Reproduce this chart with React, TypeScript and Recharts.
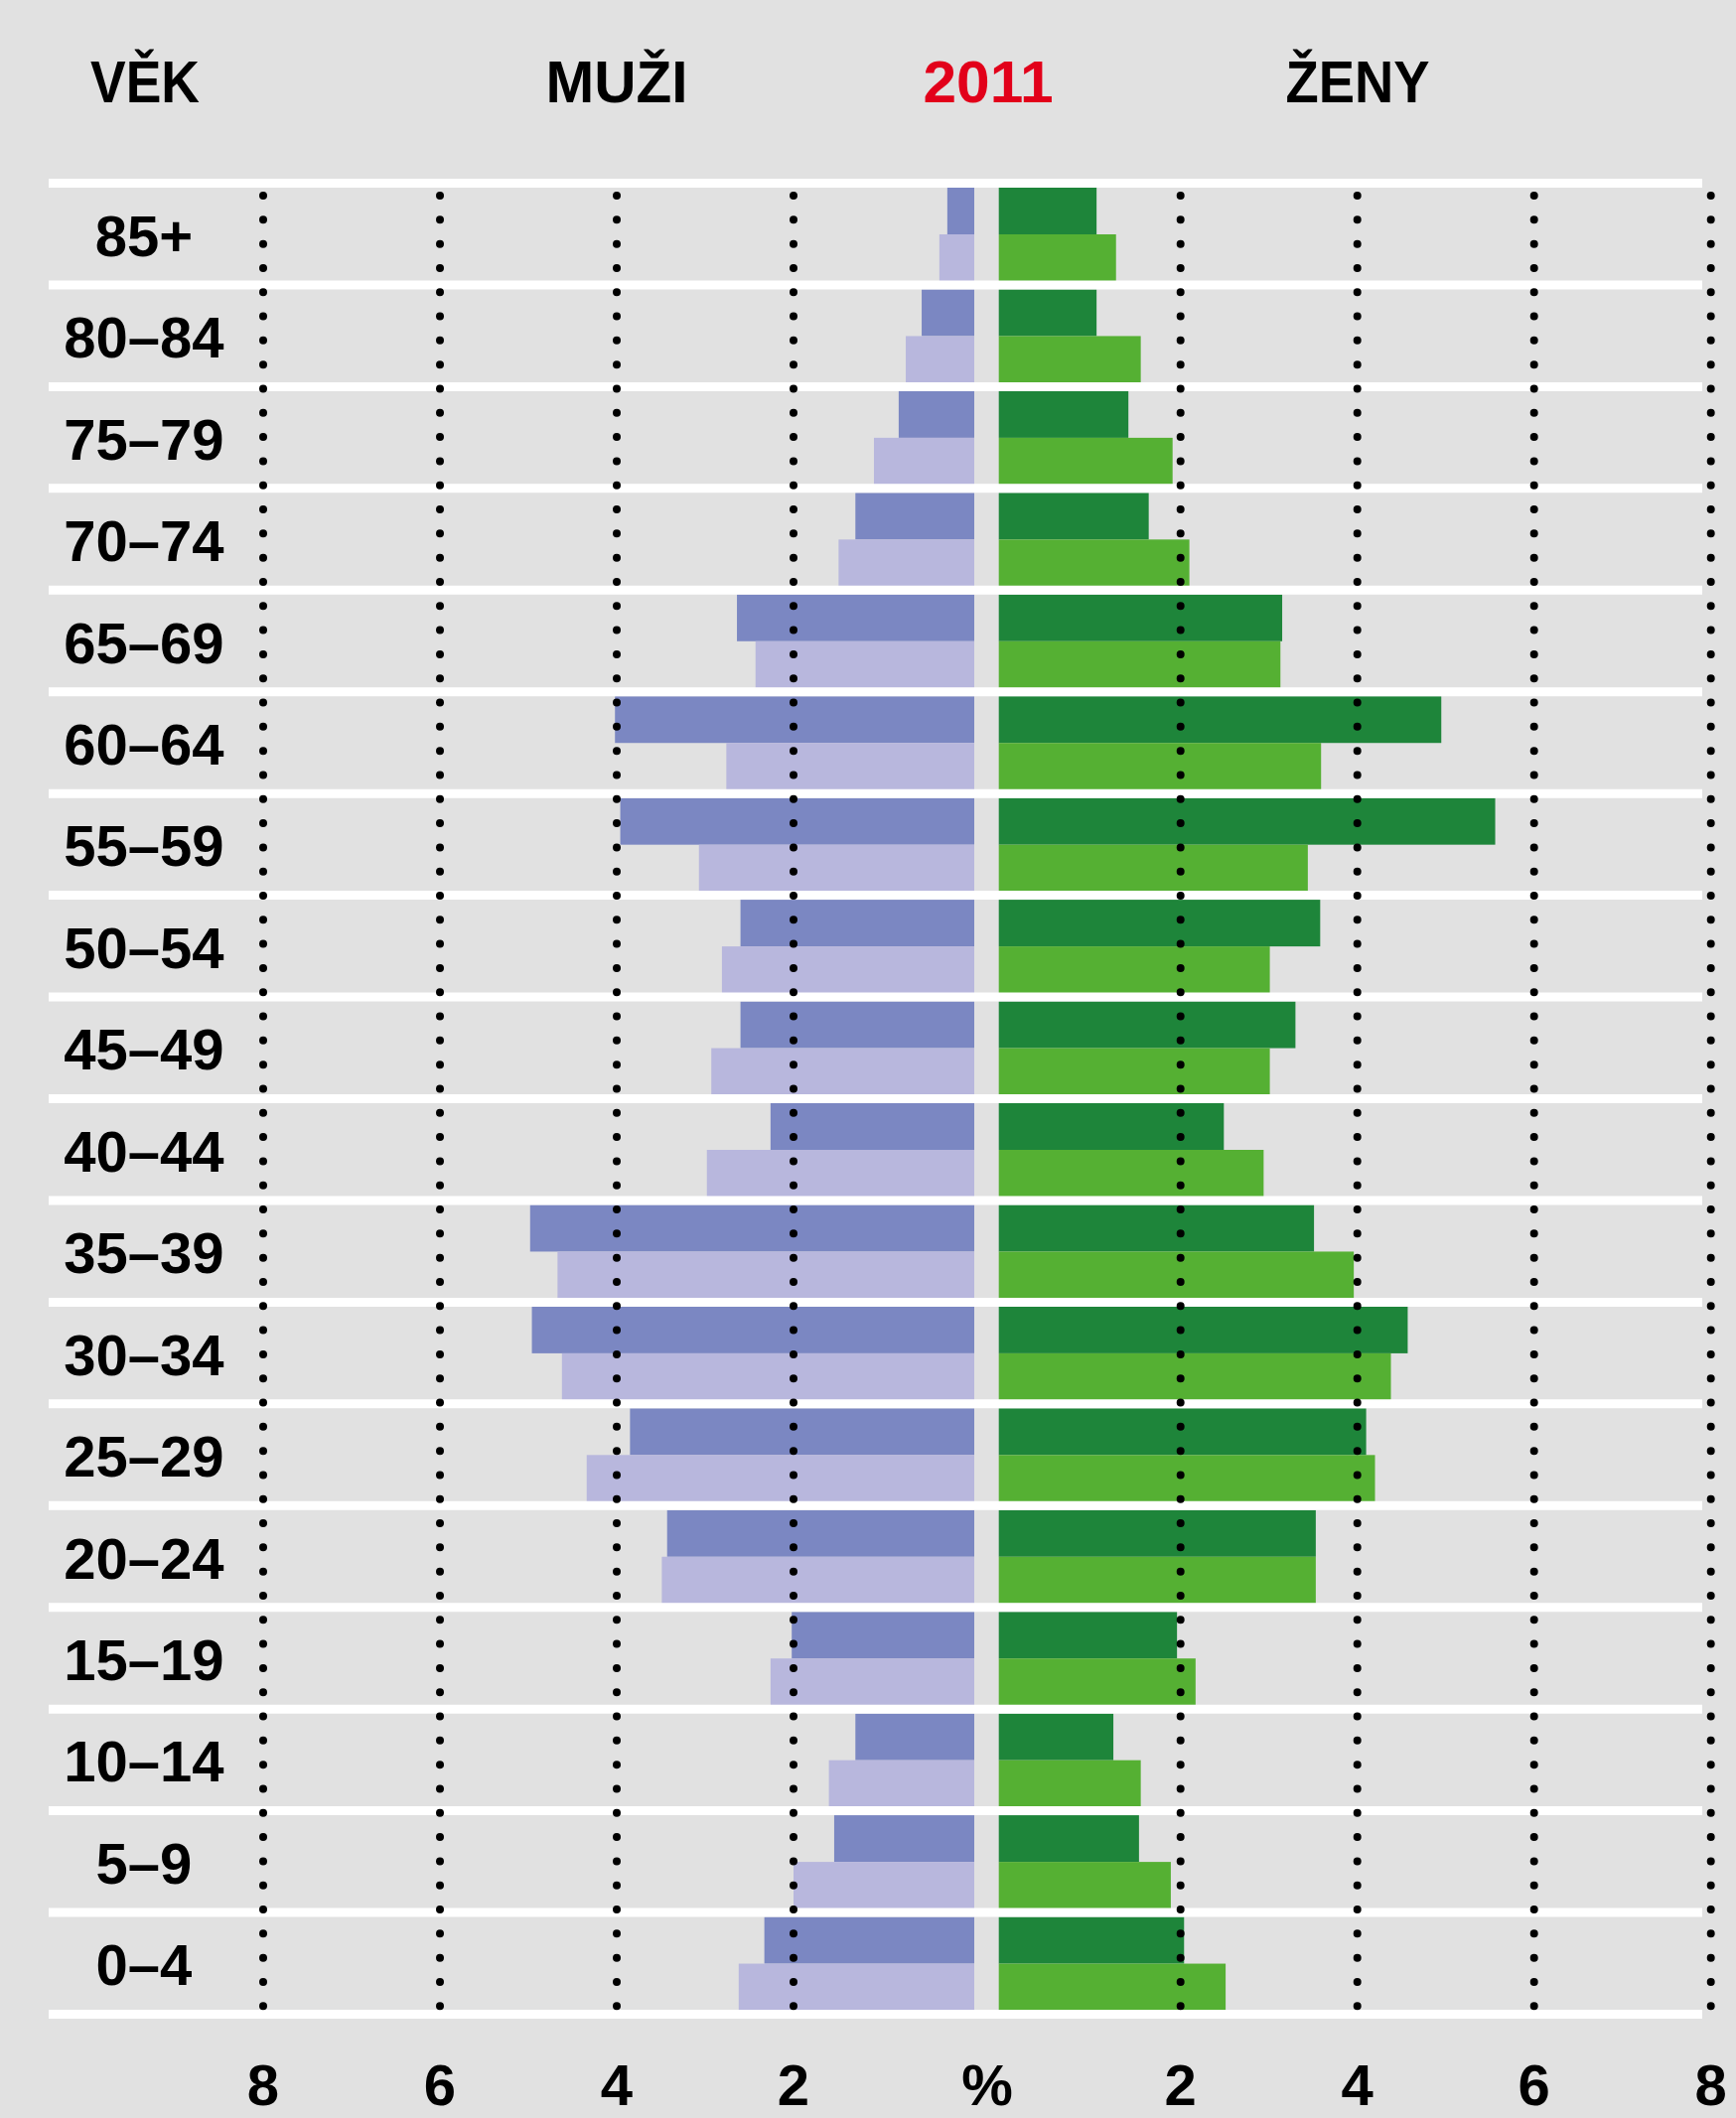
import React from 'react';
import { BarChart, Bar, XAxis, YAxis, ReferenceLine } from 'recharts';

// ---- data ----
const AGES = ['85+', '80–84', '75–79', '70–74', '65–69', '60–64', '55–59', '50–54', '45–49', '40–44', '35–39', '30–34', '25–29', '20–24', '15–19', '10–14', '5–9', '0–4'];
const MEN_DARK = [0.26, 0.55, 0.81, 1.30, 2.64, 4.02, 3.96, 2.60, 2.60, 2.26, 4.98, 4.96, 3.85, 3.43, 2.02, 1.30, 1.54, 2.33];
const MEN_LIGHT = [0.35, 0.73, 1.09, 1.49, 2.43, 2.76, 3.07, 2.81, 2.93, 2.98, 4.67, 4.62, 4.34, 3.49, 2.26, 1.60, 2.00, 2.62];
const WOMEN_DARK = [1.05, 1.05, 1.41, 1.64, 3.15, 4.95, 5.56, 3.58, 3.30, 2.49, 3.51, 4.57, 4.10, 3.53, 1.96, 1.24, 1.53, 2.04];
const WOMEN_LIGHT = [1.27, 1.55, 1.91, 2.10, 3.13, 3.59, 3.44, 3.01, 3.01, 2.94, 3.96, 4.38, 4.20, 3.53, 2.17, 1.55, 1.89, 2.51];
const GRID_TICKS = [2, 4, 6, 8];
const TITLE_AGE = 'VĚK';
const TITLE_MEN = 'MUŽI';
const TITLE_YEAR = '2011';
const TITLE_WOMEN = 'ŽENY';
const UNIT = '%';

const data = AGES.map((age, i) => ({
  age,
  menDark: MEN_DARK[i],
  menLight: MEN_LIGHT[i],
  womenDark: WOMEN_DARK[i],
  womenLight: WOMEN_LIGHT[i],
}));

// ---- layout ----
const W = 1748;
const H = 2133;
const PLOT_L = 49;
const PLOT_R = 1714;
const PLOT_T = 184.5;
const PLOT_B = 2028.5;
const PX = 89; // pixels per percent
const MEN_ZERO = 977;
const WOMEN_ZERO = 1010.7;
const menDomain = [(MEN_ZERO - PLOT_R) / PX, (MEN_ZERO - PLOT_L) / PX];
const womenDomain = [(PLOT_L - WOMEN_ZERO) / PX, (PLOT_R - WOMEN_ZERO) / PX];

const FONT = '"Liberation Sans", Arial, sans-serif';
const BG = '#e1e1e1';
const C_MEN_DARK = '#7b87c2';
const C_MEN_LIGHT = '#b8b7dd';
const C_WOMEN_DARK = '#1e853a';
const C_WOMEN_LIGHT = '#55b033';
const TICK_BASE = 2120;

const MenShape = (p: any) => {
  const l = Math.min(p.x, p.x + p.width);
  const r = Math.max(p.x, p.x + p.width);
  return <rect x={l} y={p.y} width={r - l + 4} height={p.height} fill={p.fill} />;
};
const WomenShape = (p: any) => {
  const l = Math.min(p.x, p.x + p.width);
  const r = Math.max(p.x, p.x + p.width);
  return <rect x={l - 5} y={p.y} width={r - l + 5} height={p.height} fill={p.fill} />;
};

const DotLine = (p: any) => {
  const top = Math.min(p.y1, p.y2);
  const bot = Math.max(p.y1, p.y2);
  return (
    <line
      x1={p.x1}
      x2={p.x2}
      y1={top}
      y2={bot}
      stroke="#000"
      strokeWidth={8}
      strokeLinecap="round"
      strokeDasharray="0 24.31"
      strokeDashoffset={11.8}
    />
  );
};

const AgeTick = (p: any) => (
  <text x={145} y={p.y} dy={22} textAnchor="middle" fontFamily={FONT} fontWeight={700} fontSize={58} fill="#000">
    {p.payload.value}
  </text>
);

const BottomTick = (p: any) => (
  <text x={p.x} y={TICK_BASE} textAnchor="middle" fontFamily={FONT} fontWeight={700} fontSize={58} fill="#000">
    {p.payload.value}
  </text>
);

export default function App() {
  return (
    <div style={{ position: 'absolute', left: 0, top: 0, width: W, height: H, background: BG, overflow: 'hidden' }}>
      <BarChart
        width={W}
        height={H}
        data={data}
        layout="vertical"
        margin={{ top: PLOT_T, bottom: H - PLOT_B, left: PLOT_L, right: W - PLOT_R }}
        barCategoryGap={4.5}
        barGap={0}
      >
        <XAxis
          xAxisId="m"
          type="number"
          reversed
          mirror
          domain={menDomain}
          allowDataOverflow
          ticks={GRID_TICKS}
          interval={0}
          height={60}
          axisLine={false}
          tickLine={false}
          tick={<BottomTick />}
        />
        <XAxis
          xAxisId="w"
          type="number"
          mirror
          domain={womenDomain}
          allowDataOverflow
          ticks={GRID_TICKS}
          interval={0}
          height={60}
          axisLine={false}
          tickLine={false}
          tick={<BottomTick />}
        />
        <YAxis
          yAxisId="m"
          type="category"
          dataKey="age"
          mirror
          width={200}
          axisLine={false}
          tickLine={false}
          interval={0}
          tick={<AgeTick />}
        />
        <YAxis yAxisId="w" type="category" dataKey="age" hide />

        {AGES.map((a) => (
          <ReferenceLine key={'b' + a} y={a} yAxisId="m" xAxisId="m" position="start" stroke="#fff" strokeWidth={9} ifOverflow="visible" />
        ))}
        <ReferenceLine y={AGES[AGES.length - 1]} yAxisId="m" xAxisId="m" position="end" stroke="#fff" strokeWidth={9} ifOverflow="visible" />

        <Bar dataKey="menDark" xAxisId="m" yAxisId="m" fill={C_MEN_DARK} shape={MenShape} isAnimationActive={false} />
        <Bar dataKey="menLight" xAxisId="m" yAxisId="m" fill={C_MEN_LIGHT} shape={MenShape} isAnimationActive={false} />
        <Bar dataKey="womenDark" xAxisId="w" yAxisId="w" fill={C_WOMEN_DARK} shape={WomenShape} isAnimationActive={false} />
        <Bar dataKey="womenLight" xAxisId="w" yAxisId="w" fill={C_WOMEN_LIGHT} shape={WomenShape} isAnimationActive={false} />

        {GRID_TICKS.map((t) => (
          <ReferenceLine key={'gm' + t} x={t} xAxisId="m" yAxisId="m" ifOverflow="visible" shape={DotLine} />
        ))}
        {GRID_TICKS.map((t) => (
          <ReferenceLine key={'gw' + t} x={t} xAxisId="w" yAxisId="m" ifOverflow="visible" shape={DotLine} />
        ))}
      </BarChart>
      <svg width={W} height={H} style={{ position: 'absolute', left: 0, top: 0, pointerEvents: 'none' }}>
        <g fontFamily={FONT} fontWeight={700} fontSize={60} textAnchor="middle">
          <text x={146} y={103} fill="#000" textLength={110} lengthAdjust="spacingAndGlyphs">{TITLE_AGE}</text>
          <text x={621} y={103} fill="#000" textLength={143} lengthAdjust="spacingAndGlyphs">{TITLE_MEN}</text>
          <text x={995} y={103} fill="#e2001a" textLength={131} lengthAdjust="spacingAndGlyphs">{TITLE_YEAR}</text>
          <text x={1367} y={103} fill="#000" textLength={145} lengthAdjust="spacingAndGlyphs">{TITLE_WOMEN}</text>
        </g>
        <text x={994} y={TICK_BASE} fontFamily={FONT} fontWeight={700} fontSize={58} textAnchor="middle" fill="#000">{UNIT}</text>
      </svg>
    </div>
  );
}
